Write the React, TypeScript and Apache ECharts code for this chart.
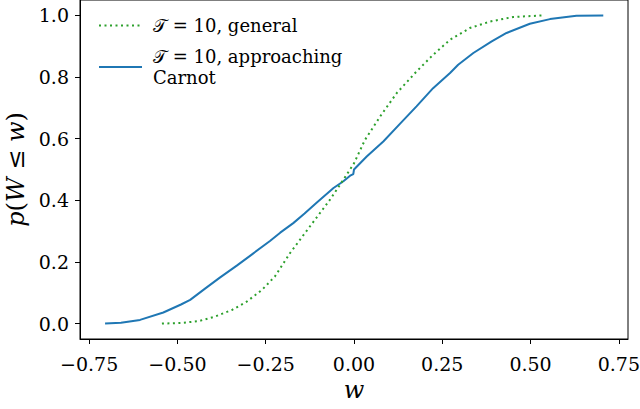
import React, { useEffect, useRef } from "react";
import * as echarts from "echarts";

const seriesNames = ["𝒯 = 10, general", "𝒯 = 10, approaching\nCarnot"];

const wGeneral = [-0.544, -0.49, -0.44, -0.393, -0.346, -0.304, -0.261, -0.224, -0.181, -0.125, -0.068, -0.03, 0.0, 0.031, 0.074, 0.121, 0.177, 0.224, 0.272, 0.328, 0.385, 0.451, 0.536];
const pGeneral = [0.0, 0.002, 0.008, 0.023, 0.044, 0.071, 0.109, 0.153, 0.229, 0.315, 0.402, 0.467, 0.52, 0.596, 0.672, 0.748, 0.818, 0.872, 0.921, 0.959, 0.98, 0.995, 1.0];

const wCarnot = [-0.705, -0.66, -0.606, -0.54, -0.49, -0.464, -0.42, -0.38, -0.332, -0.285, -0.238, -0.209, -0.172, -0.14, -0.106, -0.058, -0.03, -0.011, -0.002, 0.0, 0.036, 0.083, 0.13, 0.177, 0.224, 0.272, 0.295, 0.338, 0.39, 0.432, 0.498, 0.555, 0.63, 0.706];
const pCarnot = [0.0, 0.003, 0.012, 0.036, 0.062, 0.077, 0.115, 0.149, 0.188, 0.228, 0.268, 0.295, 0.326, 0.357, 0.392, 0.44, 0.462, 0.48, 0.485, 0.5, 0.542, 0.591, 0.648, 0.705, 0.764, 0.813, 0.84, 0.878, 0.916, 0.943, 0.973, 0.988, 0.999, 1.0];

const xTicks = [-0.75, -0.5, -0.25, 0, 0.25, 0.5, 0.75];
const yTicks = [0, 0.2, 0.4, 0.6, 0.8, 1.0];

const FONT = "DejaVu Serif";

export default function App() {
  const ref = useRef<HTMLDivElement>(null);
  useEffect(() => {
    if (!ref.current) return;
    const chart = echarts.init(ref.current, null, { renderer: "svg" });
    const fmt = (v: number, d: number) => {
      const s = Math.abs(v).toFixed(d);
      return v < -1e-9 ? "\u2212" + s : s;
    };
    const txt = (size: number, italic = false) => ({ fontFamily: FONT, fontSize: size, fontStyle: italic ? "italic" : "normal", color: "#000" });
    chart.setOption({
      animation: false,
      backgroundColor: "#fff",
      textStyle: { fontFamily: FONT, color: "#000" },
      grid: {
        left: 80, right: 12, top: 0, bottom: 70,
        containLabel: false, outerBoundsMode: "none",
        show: true, borderColor: "#000", borderWidth: 1, backgroundColor: "transparent",
      },
      legend: {
        left: 93,
        top: 10,
        orient: "vertical",
        itemWidth: 43,
        itemHeight: 14,
        itemGap: 10,
        data: seriesNames,
        itemStyle: { opacity: 0 },
        textStyle: { ...txt(18), lineHeight: 21, padding: [0, 0, 0, 6] },
      },
      xAxis: {
        type: "value",
        min: -0.776,
        max: 0.776,
        name: "w",
        nameLocation: "middle",
        nameGap: 33,
        nameTextStyle: txt(24, true),
        splitLine: { show: false },
        axisLine: { show: true, onZero: false, lineStyle: { color: "#000", width: 1 } },
        axisTick: { show: true, length: 5, customValues: xTicks, lineStyle: { color: "#000" } },
        axisLabel: { customValues: xTicks, margin: 15, hideOverlap: false, ...txt(19), formatter: (v: number) => fmt(v, 2) },
      },
      yAxis: {
        type: "value",
        min: -0.05,
        max: 1.05,
        name: "{i|p}{r|(}{i|W}{r| ≤ }{i|w}{r|)}",
        nameLocation: "middle",
        nameGap: 51,
        nameRotate: 90,
        nameTextStyle: { rich: { i: txt(24, true), r: txt(24) } },
        splitLine: { show: false },
        axisLine: { show: true, onZero: false, lineStyle: { color: "#000", width: 1 } },
        axisTick: { show: true, length: 5, customValues: yTicks, lineStyle: { color: "#000" } },
        axisLabel: { customValues: yTicks, margin: 11, ...txt(19), formatter: (v: number) => fmt(v, 1) },
      },
      series: [
        {
          name: seriesNames[0],
          type: "line",
          data: wGeneral.map((w, i) => [w, pGeneral[i]]),
          showSymbol: false,
          symbol: "none",
          color: "#2ca02c",
          lineStyle: { color: "#2ca02c", width: 2, type: [2, 3.5], cap: "butt" },
          z: 3,
        },
        {
          name: seriesNames[1],
          type: "line",
          data: wCarnot.map((w, i) => [w, pCarnot[i]]),
          showSymbol: false,
          symbol: "none",
          color: "#1f77b4",
          lineStyle: { color: "#1f77b4", width: 2 },
          z: 2,
        },
      ],
    });
    return () => chart.dispose();
  }, []);
  return <div ref={ref} style={{ position: "fixed", left: 0, top: 0, width: 640, height: 409 }} />;
}
